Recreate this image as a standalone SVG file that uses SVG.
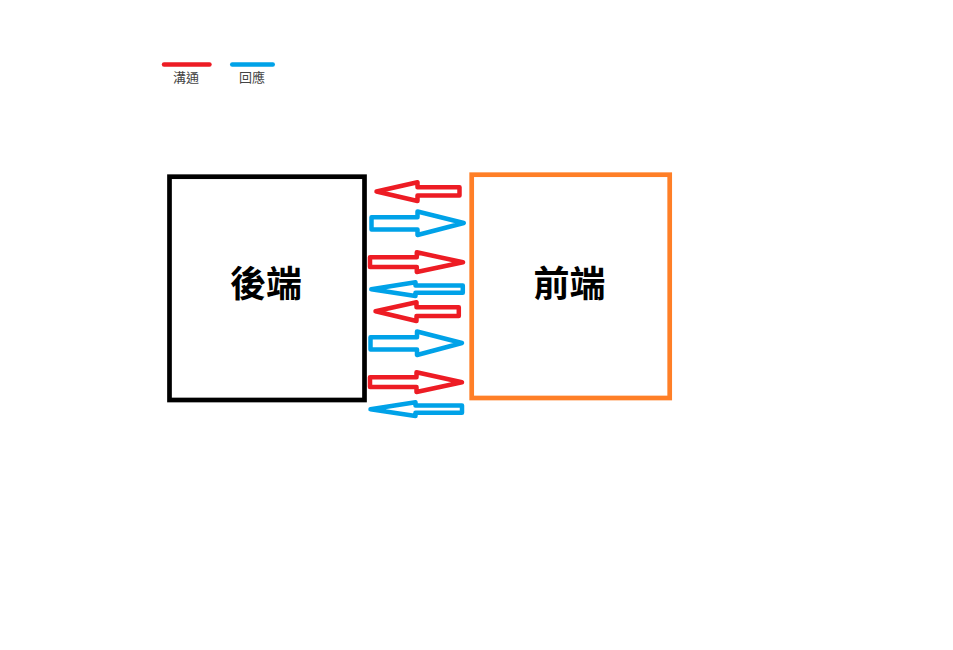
<svg xmlns="http://www.w3.org/2000/svg" width="953" height="650" viewBox="0 0 953 650">
<style>
.lbl{font-family:"Noto Sans CJK TC","Noto Sans CJK SC",sans-serif;text-anchor:middle}
.big{font-size:36px;font-weight:bold;fill:#000}
.small{font-size:13px;fill:#444}
.arr{fill:none;stroke-width:4.5;stroke-linejoin:round}
.red{stroke:#ED1C24}
.blue{stroke:#00A2E8}
</style>
<rect width="953" height="650" fill="#fff"/>
<g id="legend">
<line x1="164" y1="64.5" x2="209.5" y2="64.5" stroke="#ED1C24" stroke-width="4.4" stroke-linecap="round"/>
<line x1="232.2" y1="64.5" x2="272.8" y2="64.5" stroke="#00A2E8" stroke-width="4.4" stroke-linecap="round"/>
<text class="lbl small" x="186" y="82.3">溝通</text>
<text class="lbl small" x="252" y="82.3">回應</text>
</g>
<g id="backend">
<rect x="169.5" y="176.7" width="195" height="223.3" fill="none" stroke="#000" stroke-width="4.7"/>
<text class="lbl big" x="266" y="297">後端</text>
</g>
<g id="frontend">
<rect x="471.7" y="174.7" width="198" height="223.3" fill="none" stroke="#FF7F27" stroke-width="4.7"/>
<text class="lbl big" x="569.5" y="297">前端</text>
</g>
<g id="connectors">
<path class="arr red" d="M376.5,191.5 L417.5,182.3 L417.5,187.3 L459.5,187.3 L459.5,195.5 L417.5,195.5 L417.5,201 Z"/>
<path class="arr blue" d="M371.5,217.3 L417.5,217.3 L417.5,211.5 L463.8,223 L417.5,235 L417.5,229.5 L371.5,229.5 Z"/>
<path class="arr red" d="M370,257.3 L416.8,257.3 L416.8,252.3 L463,262.3 L416.8,272 L416.8,267 L370,267 Z"/>
<path class="arr blue" d="M371.3,289.3 L415.5,282.3 L415.5,285.5 L462.8,285.5 L462.8,292.8 L415.5,292.8 L415.5,296 Z"/>
<path class="arr red" d="M375.5,311.3 L416.5,302.3 L416.5,307.3 L458.8,307.3 L458.8,316 L416.5,316 L416.5,321 Z"/>
<path class="arr blue" d="M370.5,337.3 L417,337.3 L417,331.5 L462,343 L417,355 L417,349.5 L370.5,349.5 Z"/>
<path class="arr red" d="M370,377.3 L416.5,377.3 L416.5,372.3 L462,382.3 L416.5,392 L416.5,387 L370,387 Z"/>
<path class="arr blue" d="M370.5,409.3 L415.5,402.3 L415.5,405.5 L462,405.5 L462,412.8 L415.5,412.8 L415.5,416 Z"/>
</g>
</svg>
